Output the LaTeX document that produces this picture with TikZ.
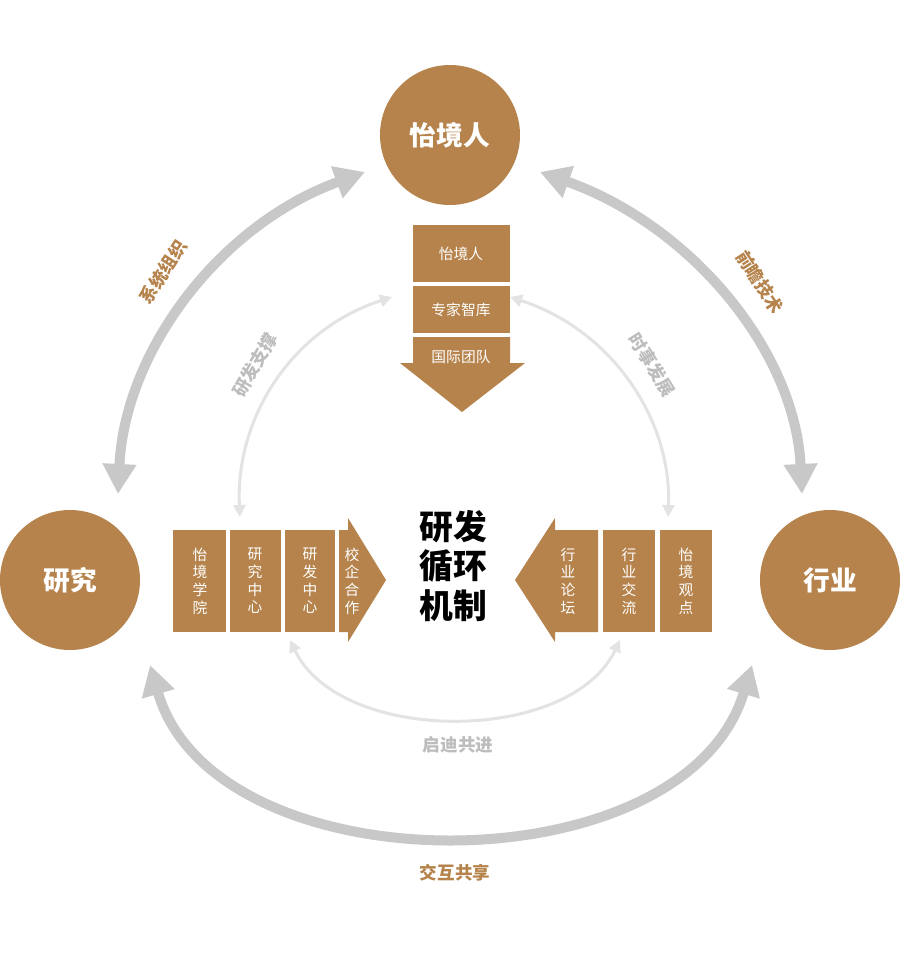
\documentclass[tikz,border=0pt]{standalone}
\usepackage{fontspec}
\setmainfont{Noto Sans CJK SC}
\usetikzlibrary{arrows.meta}
\definecolor{gold}{HTML}{B5834B}
\definecolor{outergray}{HTML}{C8C8C8}
\definecolor{innergray}{HTML}{E3E3E3}
\definecolor{labelgray}{HTML}{BDBDBD}
\tikzset{
  role/.style={circle,fill=gold,minimum size=140*0.025cm,text=white,font=\bfseries\fontsize{19}{19}\selectfont},
  outerarc/.style={draw=outergray,line width=10*0.025cm,{Triangle[length=0.75cm,width=0.8cm]}-{Triangle[length=0.75cm,width=0.8cm]}},
  innerarc/.style={draw=innergray,line width=3*0.025cm,{Triangle[length=0.3cm,width=0.3cm]}-{Triangle[length=0.3cm,width=0.3cm]}},
  goldlabel/.style={text=gold,font=\bfseries\fontsize{12.5}{12.5}\selectfont},
  graylabel/.style={text=labelgray,font=\bfseries\fontsize{12.5}{12.5}\selectfont},
  cell/.style={fill=gold},
  celltext/.style={text=white,font=\fontsize{10.5}{12.5}\selectfont,align=center}
}
\begin{document}
\begin{tikzpicture}[x=0.025cm,y=-0.025cm]
    \useasboundingbox[fill=white] (0,0) rectangle (902,961);
    % outer arrows
    \draw[outerarc] (365,172) .. controls (220,225) and (125,350) .. (118,494);
    \draw[outerarc] (540,172) .. controls (690,225) and (795,350) .. (802,494);
    \draw[outerarc] (150,665) .. controls (215,890) and (685,890) .. (752,665);
    \node[goldlabel,rotate=57] (xtzz) at (163,272) {系统组织};
    \node[goldlabel,rotate=-57] (qzjs) at (760,282) {前瞻技术};
    \node[goldlabel] (jhgx) at (455,873) {交互共享};
    % inner arrows
    \draw[innerarc] (392,297) .. controls (290,330) and (235,420) .. (240,517);
    \draw[innerarc] (510,297) .. controls (612,330) and (672,420) .. (668,517);
    \draw[innerarc] (290,640) .. controls (340,745) and (570,745) .. (620,640);
    \node[graylabel,rotate=60] (yfzc) at (255,365) {研发支撑};
    \node[graylabel,rotate=-58] (ssfz) at (652,365) {时事发展};
    \node[graylabel] (qdgj) at (458,745) {启迪共进};
    % circles
    \node[role] (yjr) at (450,135) {怡境人};
    \node[role] (yj) at (70,580) {研究};
    \node[role] (hy) at (830,580) {行业};
    % top stack
    \fill[cell] (413,225) rectangle (510,282);
    \fill[cell] (413,286) rectangle (510,333);
    \fill[cell] (413,337) -- (510,337) -- (510,363) -- (525,363) -- (462,412) -- (400,363) -- (413,363) -- cycle;
    \node[celltext] (t1) at (461,254) {怡境人};
    \node[celltext] (t2) at (461,310) {专家智库};
    \node[celltext] (t3) at (461,357) {国际团队};
    % left stack
    \fill[cell] (173,530) rectangle (226,632);
    \fill[cell] (230,530) rectangle (281,632);
    \fill[cell] (285,530) rectangle (335,632);
    \fill[cell] (339,530) -- (348,530) -- (348,518) -- (386,580) -- (348,642) -- (348,632) -- (339,632) -- cycle;
    \node[celltext] (l1) at (200,581) {怡\\境\\学\\院};
    \node[celltext] (l2) at (255,581) {研\\究\\中\\心};
    \node[celltext] (l3) at (310,581) {研\\发\\中\\心};
    \node[celltext] (l4) at (352,581) {校\\企\\合\\作};
    % right stack
    \fill[cell] (598,530) -- (555,530) -- (555,518) -- (515,580) -- (555,642) -- (555,632) -- (598,632) -- cycle;
    \fill[cell] (603,530) rectangle (655,632);
    \fill[cell] (660,530) rectangle (712,632);
    \node[celltext] (r1) at (568,581) {行\\业\\论\\坛};
    \node[celltext] (r2) at (629,581) {行\\业\\交\\流};
    \node[celltext] (r3) at (686,581) {怡\\境\\观\\点};
    % centre
    \node[font=\bfseries\fontsize{24}{28}\selectfont,align=center] (core) at (453,566) {研发\\循环\\机制};
\end{tikzpicture}
\end{document}
